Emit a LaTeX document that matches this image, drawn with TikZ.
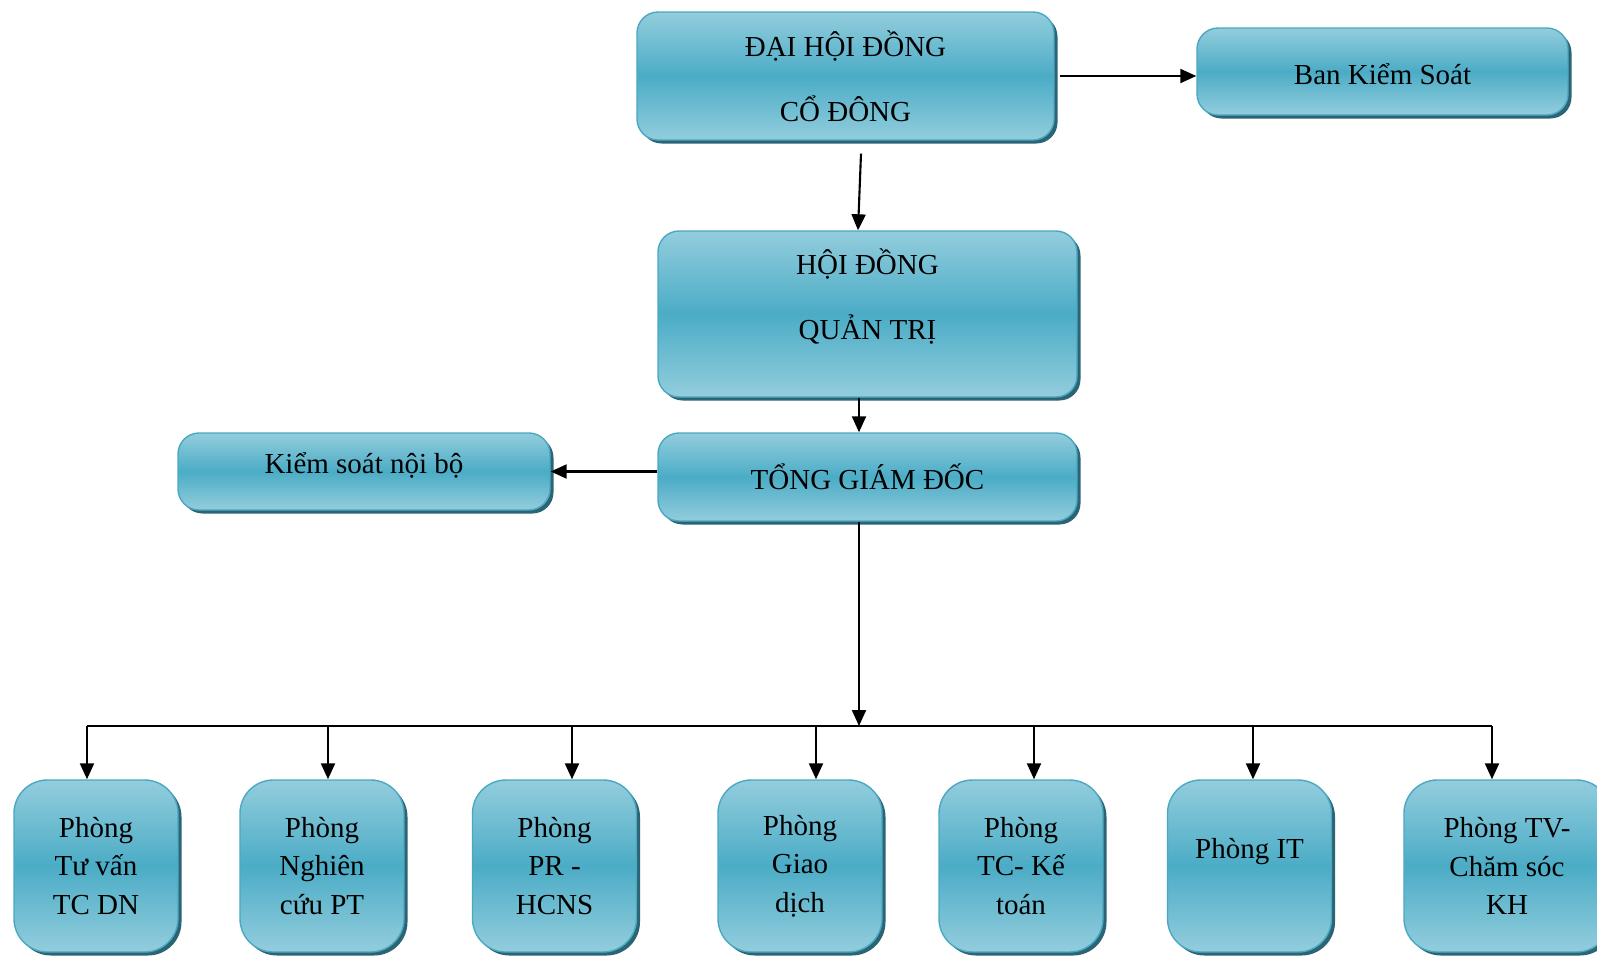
\documentclass[tikz,border=0pt]{standalone}
\usepackage{fontspec}
\setmainfont{Liberation Serif}
\usetikzlibrary{arrows.meta, shadows, positioning}

\definecolor{boxlight}{HTML}{93CDDD}
\definecolor{boxmid}{HTML}{4BACC6}
\definecolor{boxline}{HTML}{4AA8C2}
\definecolor{boxshadow}{HTML}{2B6474}

\begin{document}
\begin{tikzpicture}[
            box/.style={draw=boxline, line width=0.8pt, rounded corners=12pt,
                        top color=boxlight, bottom color=boxlight, middle color=boxmid,
                        drop shadow={shadow xshift=0.07cm, shadow yshift=-0.07cm,
                                     fill=boxshadow, opacity=1},
                        align=center, inner sep=0pt,
                        font=\fontsize{16.5}{37}\selectfont},
            dept/.style={box, rounded corners=19pt, minimum width=3.28cm,
                         minimum height=3.44cm, font=\fontsize{16.5}{21.8}\selectfont},
            arr/.style={-{Triangle[length=0.32cm, width=0.28cm]}, line width=1.2pt}
        ]
        \useasboundingbox (0,0) rectangle (31.94,-19.10);

        % --- top levels ---
        \node[box, minimum width=8.34cm, minimum height=2.56cm] (dhd) at (16.91,-1.52)
            {ĐẠI HỘI ĐỒNG\\CỔ ĐÔNG};
        \node[box, minimum width=7.42cm, minimum height=1.74cm, text height=0.52cm] (bks)
            at (27.65,-1.43) {Ban Kiểm Soát};
        \node[box, minimum width=8.38cm, minimum height=3.32cm] (hdqt) at (17.35,-6.28) {};
        \node[align=center, font=\fontsize{16.5}{37}\selectfont] (hdqttxt)
            at ([yshift=0.34cm]hdqt.center) {HỘI ĐỒNG\\QUẢN TRỊ};
        \node[box, minimum width=8.38cm, minimum height=1.76cm] (tgd) at (17.35,-9.54)
            {TỔNG GIÁM ĐỐC};
        \node[box, minimum width=7.44cm, minimum height=1.54cm, text depth=0.33cm] (ksnb)
            at (7.28,-9.43) {Kiểm soát nội bộ};

        \draw[arr] ([xshift=0.1cm]dhd.east) -- (dhd.east -| bks.west);
        \draw[arr] ([xshift=0.31cm, yshift=-0.26cm]dhd.south) -- ([xshift=-0.19cm]hdqt.north);
        \coordinate (bus) at (17.18,-14.52);
        \draw[arr] (hdqt.south -| bus) -- (tgd.north -| bus);
        \draw[arr] (ksnb.east -| tgd.west) -- (ksnb.east);
        \draw[arr] (tgd.south -| bus) -- (bus);

        % --- departments ---
        \node[dept] (p1) at (1.92,-17.32) {Phòng\\Tư vấn\\TC DN};
        \node[dept] (p2) at (6.44,-17.32) {Phòng\\Nghiên\\cứu PT};
        \node[dept] (p3) at (11.09,-17.32) {Phòng\\PR -\\HCNS};
        \node[dept] (p4) at (16.00,-17.32) {Phòng\\Giao\\dịch};
        \node[dept] (p5) at (20.42,-17.32) {Phòng\\TC- Kế\\toán};
        \node[dept, text depth=0.72cm] (p6) at (24.99,-17.32) {Phòng IT};
        \node[dept, minimum width=4.12cm] (p7) at (30.14,-17.32) {Phòng TV-\\Chăm sóc\\KH};

        % bus and drops
        \foreach \i/\dx in {1/1.74, 2/6.56, 3/11.44, 4/16.32, 5/20.68, 6/25.06, 7/29.84}
            \coordinate (d\i) at (\dx,-14.52);
        \draw[line width=1.2pt] (d1) -- (d7);
        \foreach \i in {1,...,7}
            \draw[arr] (d\i) -- (d\i |- p\i.north);
\end{tikzpicture}
\end{document}
